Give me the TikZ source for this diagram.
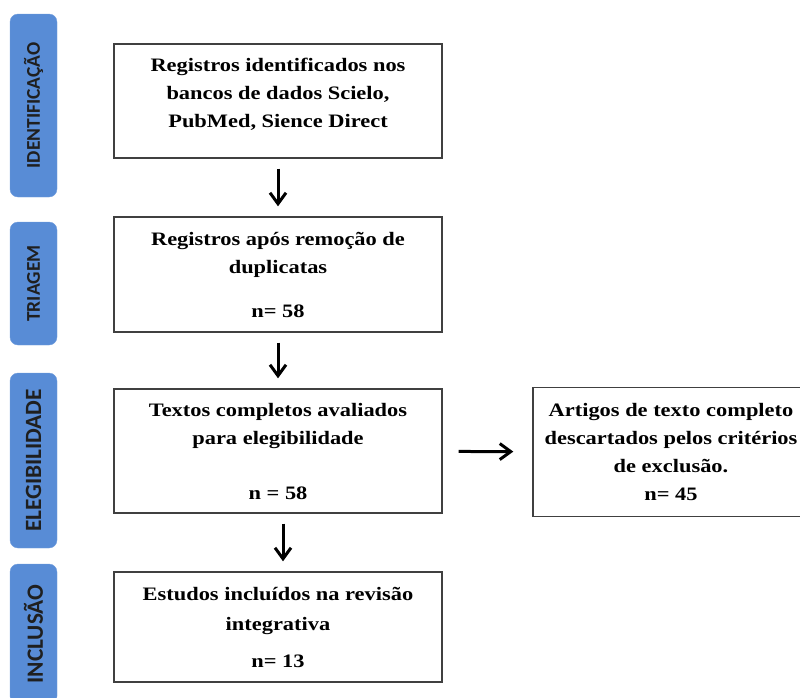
\documentclass[tikz,border=0pt]{standalone}
\usepackage{fontspec}
\newfontfamily\caixafont{Liberation Serif}[FakeStretch=1.18]
\newfontfamily\etapafont{Carlito}
\usetikzlibrary{arrows.meta}
\definecolor{azul}{RGB}{88,140,214}

\begin{document}
\begin{tikzpicture}[x=1pt,y=-1pt,
  etapa/.style={draw=azul!85!white, fill=azul, rounded corners=8pt, rotate=90,
    minimum height=47pt, inner sep=0pt, text=black!88,
    font=\etapafont\bfseries\fontsize{19.5}{20}\selectfont},
  etapagrande/.style={etapa, font=\etapafont\bfseries\fontsize{23.3}{24}\selectfont},
  caixa/.style={draw=black!75, line width=1.4pt, minimum width=328pt, inner sep=0pt,
    align=center, font=\caixafont\bfseries\fontsize{19}{28}\selectfont},
  seta/.style={-{Straight Barb[length=11pt,width=16pt]}, line width=3pt,
    shorten <=10pt, shorten >=10pt}
]
\useasboundingbox (0,0) rectangle (800,697);

  % etapas
  \node[etapa, minimum width=183pt] (e1) at (33.5,105.5) {IDENTIFICAÇÃO};
  \node[etapa, minimum width=123pt] (e2) at (33.5,283.5) {TRIAGEM};
  \node[etapagrande, minimum width=175pt] (e3) at (33.5,460.5) {ELEGIBILIDADE};
  \node[etapagrande, minimum width=140pt] (e4) at (33.5,634) {INCLUSÃO};

  % caixas
  \node[caixa, minimum height=114pt] (b1) at (278,101)
    {Registros identificados nos\\ bancos de dados Scielo,\\ PubMed, Sience Direct\\[-12pt]};
  \node[caixa, minimum height=115pt] (b2) at (278,274.5)
    {Registros após remoção de\\ duplicatas\\[16pt] n= 58};
  \node[caixa, minimum height=124pt] (b3) at (278,451)
    {Textos completos avaliados\\ para elegibilidade\\[27pt] n = 58};
  \node[caixa, minimum height=110pt] (b4) at (278,627)
    {Estudos incluídos na revisão\\[2pt] integrativa\\[9pt] n= 13};
  \node[caixa, minimum width=276pt, minimum height=129pt] (r) at (671,452)
    {Artigos de texto completo\\ descartados pelos critérios\\ de exclusão.\\ n= 45};

  \draw[seta] (b1) -- (b2);
  \draw[seta] (b2) -- (b3);
  \draw[seta] ([xshift=5pt]b3.south) -- ([xshift=5pt]b4.north);
  \draw[seta, shorten <=16pt, shorten >=19pt] (b3) -- (r);

\end{tikzpicture}
\end{document}
